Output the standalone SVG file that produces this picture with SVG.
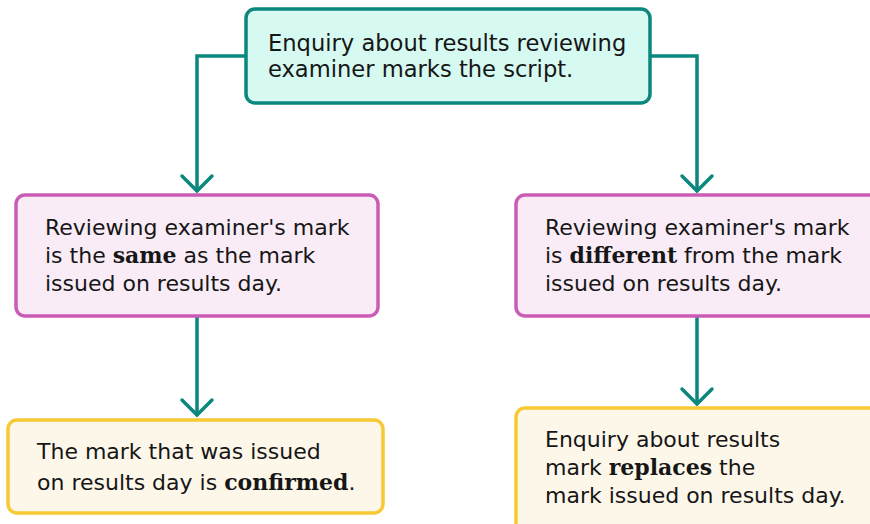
<svg xmlns="http://www.w3.org/2000/svg" width="870" height="524" viewBox="0 0 870 524">
<style>
.t{font-family:"DejaVu Sans","Liberation Sans",sans-serif;font-size:22px;fill:#161616}
.tt{font-size:22.6px}
.b{font-family:"DejaVu Serif","Liberation Serif",serif;font-weight:bold}
.teal{fill:#d6faf1;stroke:#0b877d;stroke-width:3.5}
.pink{fill:#f9ecf6;stroke:#cb5cb6;stroke-width:3.5}
.yel{fill:#fdf7ea;stroke:#f6c935;stroke-width:3.5}
.c{fill:none;stroke:#0b877d;stroke-width:3.5}
</style>
<defs>
<marker id="ah" markerUnits="userSpaceOnUse" markerWidth="40" markerHeight="40" refX="20" refY="20" orient="auto" viewBox="0 0 40 40">
<path d="M5,5 L20,20 L5,35" fill="none" stroke="#0b877d" stroke-width="3.5" stroke-linecap="round" stroke-linejoin="miter"/>
</marker>
</defs>
<rect width="870" height="524" fill="#ffffff"/>
<g id="connectors">
<path class="c" d="M246,56 H197 V191" marker-end="url(#ah)"/>
<path class="c" d="M650,56 H697 V191" marker-end="url(#ah)"/>
<path class="c" d="M197,316 V415" marker-end="url(#ah)"/>
<path class="c" d="M697,316 V404" marker-end="url(#ah)"/>
</g>
<g id="top">
<rect class="teal" x="246" y="9" width="404" height="94" rx="9"/>
<text class="t tt" x="268" y="51">Enquiry about results reviewing</text>
<text class="t tt" x="268" y="77">examiner marks the script.</text>
</g>
<g id="same">
<rect class="pink" x="16" y="195" width="362" height="121" rx="9"/>
<text class="t" x="45" y="235">Reviewing examiner's mark</text>
<text class="t" x="45" y="263">is the <tspan class="b">same</tspan> as the mark</text>
<text class="t" x="45" y="291">issued on results day.</text>
</g>
<g id="different">
<rect class="pink" x="516" y="195" width="370" height="121" rx="9"/>
<text class="t" x="545" y="235">Reviewing examiner's mark</text>
<text class="t" x="545" y="263">is <tspan class="b">different</tspan> from the mark</text>
<text class="t" x="545" y="291">issued on results day.</text>
</g>
<g id="confirmed">
<rect class="yel" x="8" y="420" width="375" height="93" rx="9"/>
<text class="t" x="37" y="459">The mark that was issued</text>
<text class="t" x="37" y="490">on results day is <tspan class="b">confirmed</tspan>.</text>
</g>
<g id="replaces">
<rect class="yel" x="516" y="408" width="370" height="130" rx="9"/>
<text class="t" x="545" y="447">Enquiry about results</text>
<text class="t" x="545" y="475">mark <tspan class="b">replaces</tspan> the</text>
<text class="t" x="545" y="503">mark issued on results day.</text>
</g>
</svg>
